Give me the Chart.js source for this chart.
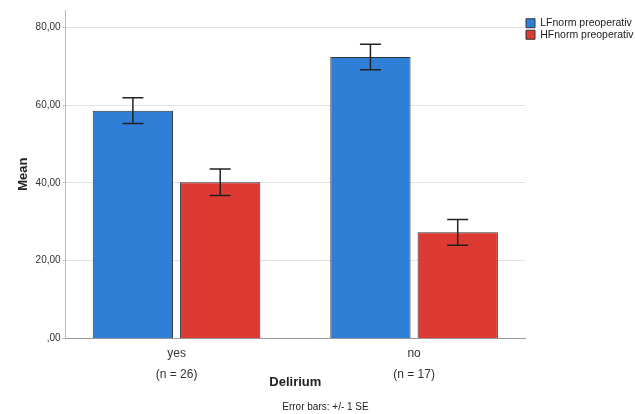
<!DOCTYPE html>
<html>
<head>
<meta charset="utf-8">
<script src="https://cdn.jsdelivr.net/npm/chart.js@4.4.1/dist/chart.umd.min.js"></script>
<style>
  html, body { margin: 0; padding: 0; background: #fff; }
  #wrap { width: 635px; height: 414px; }
</style>
</head>
<body>
<div id="wrap"><canvas id="meanChart"></canvas></div>
<script>
const categories = ['yes', 'no'];
const groupSizes = ['(n = 26)', '(n = 17)'];
const lfMeans = [58.6, 72.4];
const lfSE = [3.3, 3.3];
const hfMeans = [40.2, 27.3];
const hfSE = [3.4, 3.3];
const yTicks = [0, 20, 40, 60, 80];

const means = [lfMeans, hfMeans];
const errs = [lfSE, hfSE];
const toPoints = arr => arr.map((v, i) => ({ x: i, y: v }));

// error bars +/- 1 SE drawn on top of each bar
const errorBars = {
    id: 'errorBars',
    afterDatasetsDraw(chart) {
        const ctx = chart.ctx;
        const y = chart.scales.y;
        ctx.save();
        ctx.strokeStyle = '#222';
        ctx.lineWidth = 1.5;
        chart.data.datasets.forEach((ds, d) => {
            chart.getDatasetMeta(d).data.forEach((bar, i) => {
                const v = means[d][i];
                const top = y.getPixelForValue(v + errs[d][i]);
                const bot = y.getPixelForValue(v - errs[d][i]);
                ctx.beginPath();
                ctx.moveTo(bar.x, top); ctx.lineTo(bar.x, bot);
                ctx.moveTo(bar.x - 10.5, top); ctx.lineTo(bar.x + 10.5, top);
                ctx.moveTo(bar.x - 10.5, bot); ctx.lineTo(bar.x + 10.5, bot);
                ctx.stroke();
            });
        });
        ctx.restore();
    }
};

// narrow legend column, items pushed down a little
const legendTweak = {
    id: 'legendTweak',
    beforeLayout(chart) {
        const lg = chart.legend;
        if (lg && !lg._patched) {
            const fit = lg.fit;
            lg.fit = function () {
                fit.call(this);
                this.width = 110;
            };
            lg._patched = true;
        }
    },
    afterLayout(chart) {
        if (chart.legend) chart.legend.top += 7;
    }
};

const font = "'Liberation Sans', Arial, sans-serif";

new Chart(document.getElementById('meanChart'), {
    type: 'bar',
    data: {
        datasets: [{
            label: 'LFnorm preoperativ',
            data: toPoints(lfMeans),
            backgroundColor: '#2f7fd6',
            borderColor: '#333',
            borderWidth: 1
        }, {
            label: 'HFnorm preoperativ',
            data: toPoints(hfMeans),
            backgroundColor: '#dc3a33',
            borderColor: '#333',
            borderWidth: 1
        }]
    },
    options: {
        responsive: true,
        maintainAspectRatio: false,
        animation: false,
        layout: { padding: { left: 16, top: 10, right: 0, bottom: 0 } },
        categoryPercentage: 0.735,
        barPercentage: 0.92,
        scales: {
            x: {
                type: 'linear',
                offset: false,
                min: -0.467,
                max: 1.467,
                afterBuildTicks: scale => {
                    scale.ticks = categories.map((c, i) => ({ value: i }));
                },
                grid: { display: false, drawTicks: false, offset: false },
                border: { color: '#999', width: 1 },
                ticks: {
                    color: '#333',
                    font: { family: font, size: 12, lineHeight: 1.75 },
                    padding: 5,
                    callback: v => [categories[v], groupSizes[v]]
                },
                title: {
                    display: true, text: 'Delirium', color: '#222',
                    font: { family: font, size: 13, weight: 'bold' },
                    padding: { top: -16, bottom: 4 }
                }
            },
            y: {
                min: 0,
                max: 84.5,
                afterBuildTicks: scale => {
                    scale.ticks = yTicks.map(v => ({ value: v }));
                },
                grid: { color: '#e2e2e2', tickLength: 3, tickColor: '#bbb' },
                border: { color: '#bbb' },
                ticks: {
                    color: '#333',
                    font: { family: font, size: 10 },
                    padding: 2,
                    callback: v => v === 0 ? ',00' : v.toFixed(2).replace('.', ',')
                },
                title: {
                    display: true, text: 'Mean', color: '#222',
                    font: { family: font, size: 13, weight: 'bold' },
                    padding: { top: 0, bottom: 2 }
                }
            }
        },
        plugins: {
            legend: {
                position: 'right',
                align: 'start',
                labels: {
                    boxWidth: 9,
                    boxHeight: 9,
                    padding: 1,
                    color: '#222',
                    font: { family: font, size: 10.5, lineHeight: 0.85 }
                }
            },
            title: {
                display: true,
                position: 'bottom',
                text: 'Error bars: +/- 1 SE',
                color: '#222',
                font: { family: font, size: 10, weight: 'normal' },
                padding: { top: 7, bottom: 1 }
            },
            tooltip: { enabled: false }
        }
    },
    plugins: [errorBars, legendTweak]
});
</script>
</body>
</html>
